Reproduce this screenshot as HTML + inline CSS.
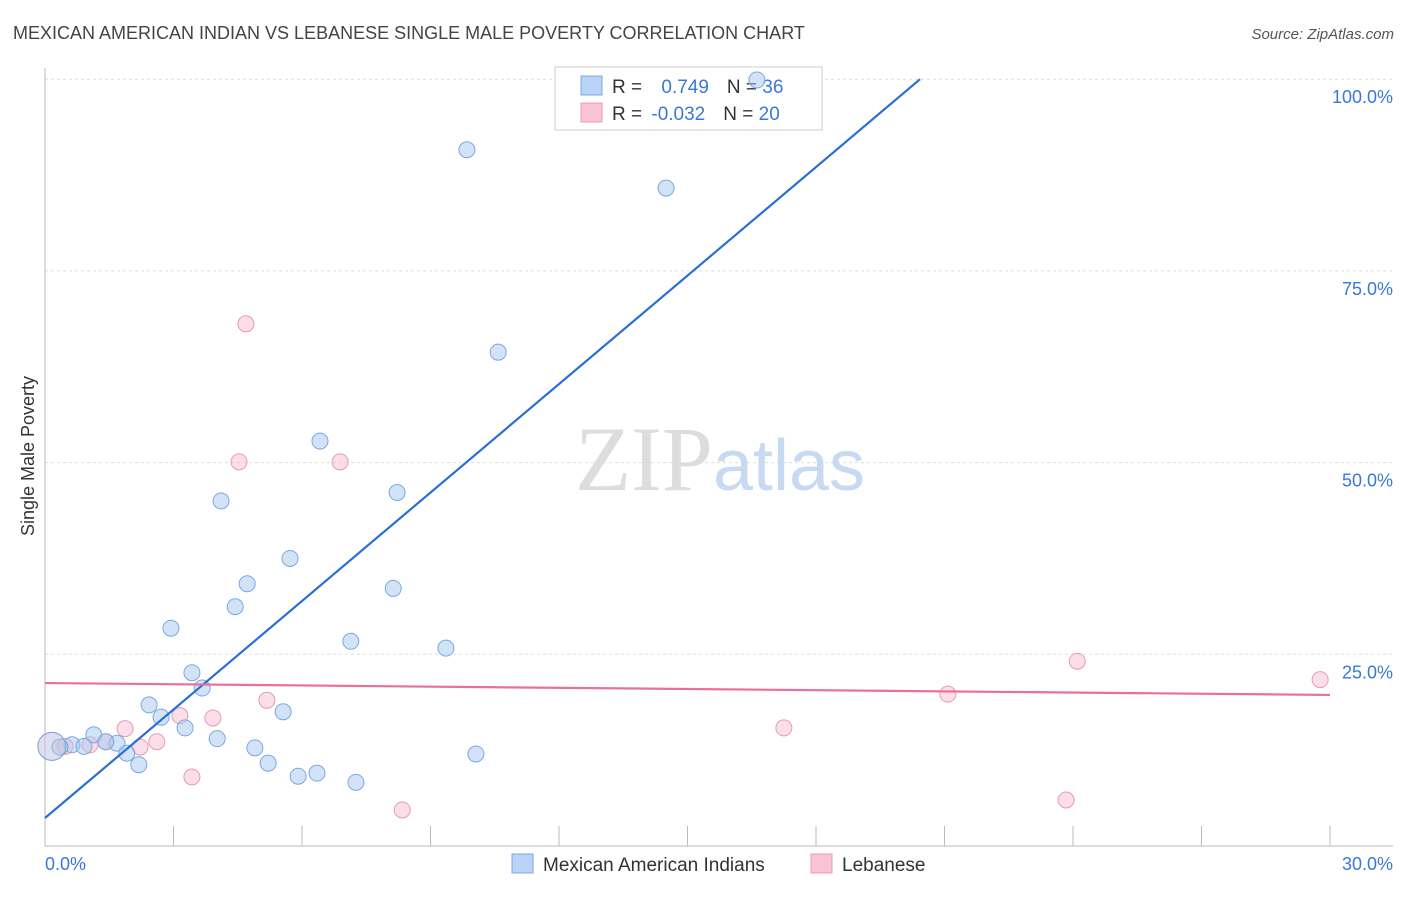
<!DOCTYPE html>
<html><head><meta charset="utf-8"><style>
body{margin:0;background:#fff;font-family:"Liberation Sans",sans-serif;}
svg text{font-family:"Liberation Sans",sans-serif;}
</style></head><body>
<svg id="chart" width="1406" height="892" viewBox="0 0 1406 892" xmlns="http://www.w3.org/2000/svg">
<text x="13" y="39" font-size="18" fill="#444">MEXICAN AMERICAN INDIAN VS LEBANESE SINGLE MALE POVERTY CORRELATION CHART</text>
<text x="1394" y="39" font-size="15" fill="#555" text-anchor="end" font-style="italic">Source: ZipAtlas.com</text>
<text transform="translate(34,456) rotate(-90)" font-size="18" fill="#333" text-anchor="middle">Single Male Poverty</text>
<g id="grid"></g>
<line x1="45" y1="68" x2="45" y2="846" stroke="#bbb"/>
<line x1="45" y1="846" x2="1393" y2="846" stroke="#bbb"/>
<text x="720" y="490" font-size="92" text-anchor="middle"><tspan fill="#ddd" font-family="Liberation Serif">ZIP</tspan><tspan fill="#c8daf2" font-size="72">atlas</tspan></text>
<g id="ticks"></g>
<g>
<rect x="555" y="67" width="267" height="63" fill="#fff" stroke="#ccc"/>
<rect x="581" y="76" width="21" height="19" fill="#b8d3f5" stroke="#7aa8e0"/>
<rect x="581" y="103" width="21" height="19" fill="#f8c4d4" stroke="#e89ab4"/>
<text x="612" y="93" font-size="19" fill="#333">R = <tspan fill="#3a78d8" dx="14">0.749</tspan><tspan dx="18">N = </tspan><tspan fill="#3a78d8">36</tspan></text>
<text x="612" y="120" font-size="19" fill="#333">R = <tspan fill="#3a78d8" dx="4">-0.032</tspan><tspan dx="18">N = </tspan><tspan fill="#3a78d8">20</tspan></text>
</g>
<g id="points"></g>
<g id="trends"></g>
<g>
<rect x="512" y="854" width="21" height="19" fill="#b8d3f5" stroke="#7aa8e0"/>
<text x="543" y="871" font-size="19" fill="#333">Mexican American Indians</text>
<rect x="811" y="854" width="21" height="19" fill="#f8c4d4" stroke="#e89ab4"/>
<text x="842" y="871" font-size="19" fill="#333">Lebanese</text>
</g>
</svg>
<script>
const xTicks=[0,3,6,9,12,15,18,21,24,27,30];
const xTickLabels=["0.0%","30.0%"];
const yGrid=[25,50,75,100];
const yTickLabels=["25.0%","50.0%","75.0%","100.0%"];
const blueX=[16.62,9.85,14.50,10.58,6.42,8.22,4.11,5.72,4.72,8.13,4.44,2.94,7.14,9.36,3.43,3.67,2.43,2.71,5.56,3.27,1.14,4.02,1.68,0.63,0.91,1.42,0.35,4.90,1.91,10.06,2.19,5.21,5.91,6.35,7.26,0.16];
const blueY=[99.9,90.8,85.8,64.4,52.8,46.1,45.0,37.5,34.2,33.6,31.2,28.4,26.7,25.8,22.6,20.6,18.4,16.8,17.5,15.4,14.5,14.0,13.4,13.2,13.0,13.6,12.9,12.8,12.1,12.0,10.6,10.8,9.1,9.5,8.3,13.0];
const pinkX=[4.69,4.53,6.89,5.18,24.10,29.77,21.08,1.87,3.15,3.92,17.25,2.61,2.22,3.43,8.34,23.84,0.16,0.47,1.42,1.05];
const pinkY=[68.1,50.1,50.1,19.0,24.1,21.7,19.8,15.3,17.0,16.7,15.4,13.6,12.9,9.0,4.7,6.0,13.0,13.0,13.6,13.2];
const blueTrend=[0,3.65,20.43,100];
const pinkTrend=[0,21.25,30,19.7];
const NS="http://www.w3.org/2000/svg";
const sx=v=>45+v*42.833;
const sy=v=>846-v*7.668;
function mk(tag,attrs,parent){const e=document.createElementNS(NS,tag);for(const k in attrs)e.setAttribute(k,attrs[k]);document.getElementById(parent).appendChild(e);return e;}
yGrid.forEach((g,i)=>{
 const l=mk('line',{x1:45,x2:1393,y1:sy(g),y2:sy(g),stroke:'#ddd','stroke-dasharray':'3,3'},'grid');
 
 
 const t=mk('text',{x:1393,y:sy(g)+24,'font-size':18,fill:'#3a78d8','text-anchor':'end'},'grid');
 t.textContent=yTickLabels[i];
 
 
});
xTicks.forEach((v,i)=>{if(i===0)return;
 const l=mk('line',{x1:sx(v),x2:sx(v),y1:826,y2:846,stroke:'#bbb'},'ticks');
 
 
});
[[0,'start',45],[30,'end',1393]].forEach((a,i)=>{
 const t=mk('text',{x:a[2],y:870,'font-size':18,fill:'#3a78d8','text-anchor':a[1]},'ticks');
 t.textContent=xTickLabels[i];
 
 
});
function dots(xs,ys,fill,stroke,name){
 xs.forEach((x,i)=>{
  const big=(x<0.2);
  const c=mk('circle',{cx:sx(x),cy:sy(ys[i]),r:big?14:8,fill:big?'rgba(200,200,230,0.35)':fill,stroke:stroke,'stroke-width':1},'points');
  
  
 });
}
dots(pinkX,pinkY,'rgba(246,182,202,0.45)','#e89ab4','lebanese-point');
dots(blueX,blueY,'rgba(165,199,242,0.5)','#7aa8e0','mexican-point');
const bl=mk('line',{x1:sx(blueTrend[0]),y1:sy(blueTrend[1]),x2:sx(blueTrend[2]),y2:sy(blueTrend[3]),stroke:'#2a6fd6','stroke-width':2.2},'trends');


const pl=mk('line',{x1:sx(pinkTrend[0]),y1:sy(pinkTrend[1]),x2:sx(pinkTrend[2]),y2:sy(pinkTrend[3]),stroke:'#e8709a','stroke-width':2.2},'trends');


</script>
</body></html>
